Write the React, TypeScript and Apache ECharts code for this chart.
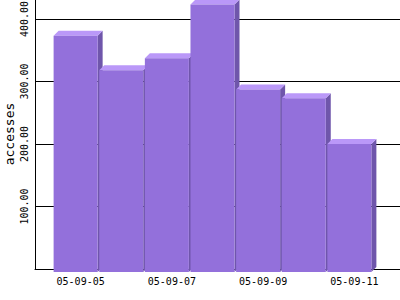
import React, { useEffect, useRef } from "react";
import * as echarts from "echarts";

const categories = ["05-09-05", "05-09-06", "05-09-07", "05-09-08", "05-09-09", "05-09-10", "05-09-11"];
const accesses = [378, 323, 342, 428, 292, 278, 205];
const yTicks = [0, 100, 200, 300, 400];

const FRONT = "#9370DB";
const TOP = "#BA98F8";
const SIDE = "#6F56AB";
const MONO = "'DejaVu Sans Mono', monospace";

export default function App() {
  const ref = useRef<HTMLDivElement>(null);
  useEffect(() => {
    if (!ref.current) return;
    const chart = echarts.init(ref.current, null, { renderer: "svg" });
    const data = accesses.map((v, i) => [i + 1, v]);
    chart.setOption({
      animation: false,
      backgroundColor: "#ffffff",
      grid: { left: 35, right: 0, top: -1, bottom: 31, containLabel: false, outerBoundsMode: "none" },
      xAxis: {
        type: "value",
        min: 0,
        max: categories.length + 1,
        interval: 1,
        axisLine: { show: true, lineStyle: { color: "#000", width: 1 } },
        axisTick: { show: false },
        splitLine: { show: false },
        axisLabel: {
          margin: 7,
          fontFamily: MONO,
          fontSize: 10,
          color: "#000",
          showMinLabel: false,
          showMaxLabel: false,
          formatter: (v: number) => (v % 2 === 1 ? categories[v - 1] ?? "" : ""),
        },
      },
      yAxis: {
        type: "value",
        min: yTicks[0],
        max: 432,
        interval: 100,
        name: "accesses",
        nameLocation: "middle",
        nameGap: 19,
        nameRotate: 90,
        nameMoveOverlap: false,
        nameTextStyle: { fontFamily: MONO, fontSize: 13, color: "#000", verticalAlign: "bottom" },
        axisLine: { show: true, lineStyle: { color: "#000", width: 1 } },
        axisTick: { show: false },
        splitLine: { show: true, lineStyle: { color: "#000", width: 1 } },
        axisLabel: {
          rotate: 90,
          margin: 6,
          align: "center",
          verticalAlign: "bottom",
          fontFamily: MONO,
          fontSize: 10,
          color: "#000",
          showMinLabel: false,
          showMaxLabel: false,
          formatter: (v: number) => (yTicks.includes(v) ? v.toFixed(2) : ""),
        },
      },
      series: [
        {
          type: "custom",
          clip: false,
          data,
          renderItem: (params: any, api: any) => {
            const x = api.value(0);
            const v = api.value(1);
            const top = api.coord([x, v]);
            const base = api.coord([x, 0]);
            const unit = api.size([1, 0])[0];
            const w = unit * 0.965;
            const d = 5;
            const fl = top[0] - d - w / 2;
            const ft = top[1] + 3;
            const fb = base[1] + 3;
            return {
              type: "group",
              children: [
                {
                  type: "polygon",
                  shape: { points: [[fl + w, ft], [fl + w + d, ft - d], [fl + w + d, fb - d], [fl + w, fb]] },
                  style: { fill: SIDE },
                },
                {
                  type: "polygon",
                  shape: { points: [[fl, ft], [fl + d, ft - d], [fl + w + d, ft - d], [fl + w, ft]] },
                  style: { fill: TOP },
                },
                {
                  type: "rect",
                  shape: { x: fl, y: ft, width: w, height: fb - ft },
                  style: { fill: FRONT },
                },
              ],
            };
          },
        },
      ],
    });
    return () => chart.dispose();
  }, []);
  return <div ref={ref} style={{ position: "fixed", left: 0, top: 0, width: 400, height: 300 }} />;
}
